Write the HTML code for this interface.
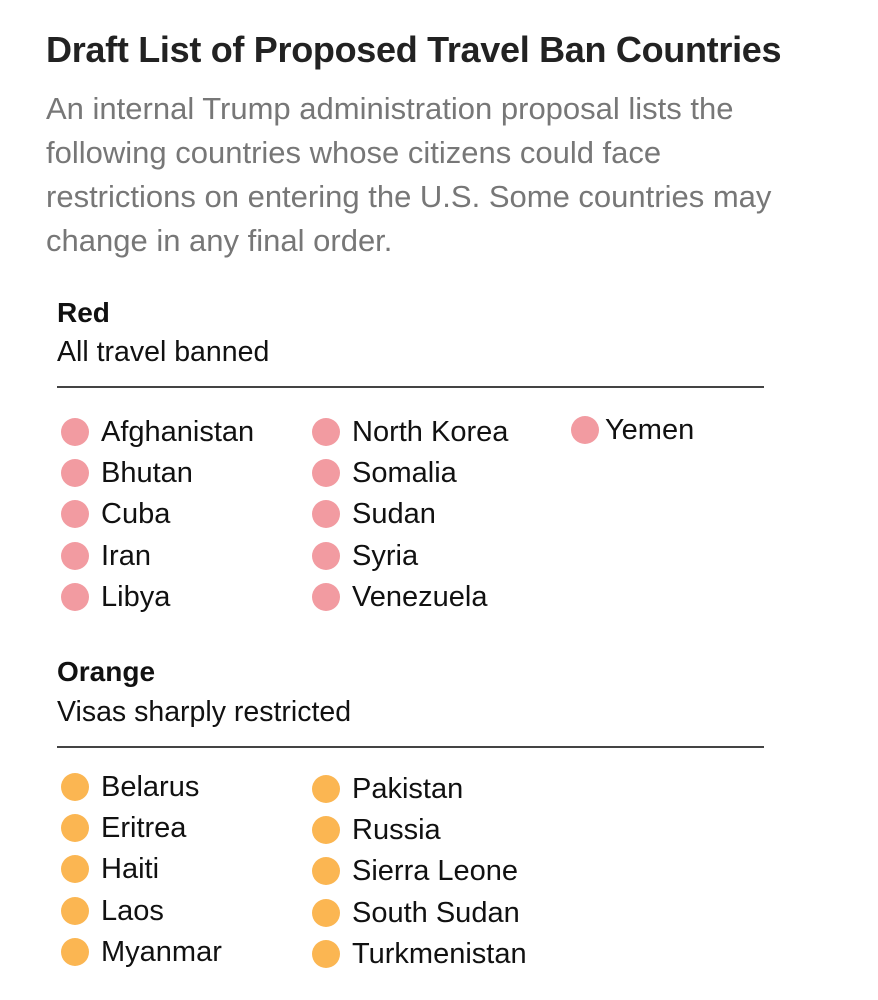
<!DOCTYPE html>
<html><head><meta charset="utf-8"><style>
body{margin:0;width:878px;height:1000px;background:#fff;position:relative;font-family:"Liberation Sans",sans-serif;overflow:hidden}
.a{position:absolute;white-space:nowrap}
.t{left:46px;top:29px;font-size:36px;font-weight:bold;color:#222;letter-spacing:-0.3px}
.s{left:46px;font-size:31px;color:#777;line-height:44px}
.h{left:57px;font-size:28px;font-weight:bold;color:#111}
.d{left:57px;font-size:28.5px;color:#111}
.r{position:absolute;left:57px;width:707px;height:2px;background:#444}
.i{position:absolute;font-size:29px;color:#111;white-space:nowrap;line-height:34px}
.c{position:absolute;width:28px;height:28px;border-radius:50%}
</style></head><body>
<div class="a t">Draft List of Proposed Travel Ban Countries</div>
<div class="a s" style="top:87px">An internal Trump administration proposal lists the<br>following countries whose citizens could face<br>restrictions on entering the U.S. Some countries may<br>change in any final order.</div>
<div class="a h" style="top:297px">Red</div>
<div class="a d" style="top:336px">All travel banned</div>
<div class="r" style="top:386px"></div>
<div class="a h" style="top:656px">Orange</div>
<div class="a d" style="top:696px">Visas sharply restricted</div>
<div class="r" style="top:746px"></div>
<div id="lists"></div>
<script>
const redCols=[["Afghanistan","Bhutan","Cuba","Iran","Libya"],["North Korea","Somalia","Sudan","Syria","Venezuela"],["Yemen"]];
const orangeCols=[["Belarus","Eritrea","Haiti","Laos","Myanmar"],["Pakistan","Russia","Sierra Leone","South Sudan","Turkmenistan"]];
const colX=[75,326,585];
const colTextX=[101,352,605];
function draw(cols,color,startY,offsets,grp){
  const root=document.getElementById('lists');
  cols.forEach((col,ci)=>{
    col.forEach((name,ri)=>{
      const y=startY+(offsets[ci]||0)+ri*41.2;
      const c=document.createElement('div');
      c.className='c';
      
      
      c.style.left=(colX[ci]-14)+'px';c.style.top=(y-14)+'px';c.style.background=color;
      root.appendChild(c);
      const t=document.createElement('div');
      t.className='i';
      
      
      t.textContent=name;
      t.style.left=colTextX[ci]+'px';t.style.top=(y-17)+'px';
      root.appendChild(t);
    });
  });
}
draw(redCols,'#f29ba1',432,[0,0,-2],'red');
draw(orangeCols,'#fbb652',787,[0,2],'orange');
</script>
</body></html>
